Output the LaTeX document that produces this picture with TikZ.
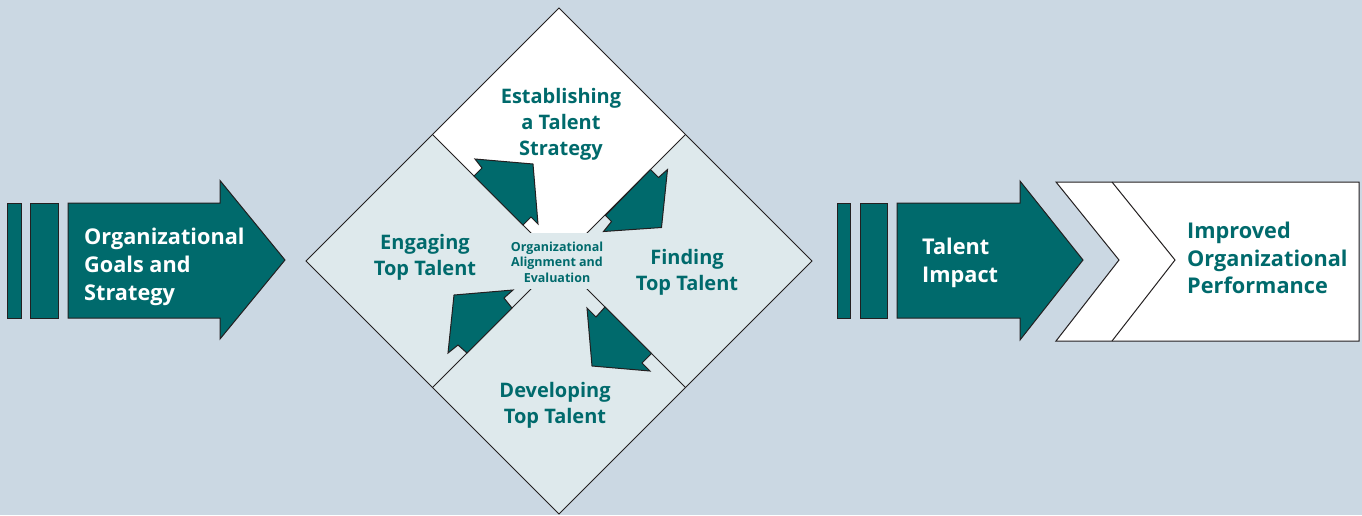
\documentclass[tikz,border=0pt]{standalone}
\usepackage{fontspec}
\setmainfont{Open Sans}
\definecolor{bgc}{RGB}{203,216,227}
\definecolor{tealc}{RGB}{0,106,108}
\definecolor{lightq}{RGB}{222,233,236}
\definecolor{edgec}{RGB}{35,31,32}
\begin{document}
\begin{tikzpicture}[x=1pt,y=-1pt,
  outl/.style={draw=edgec,line width=1pt,line join=miter},
  tealshape/.style={outl,fill=tealc},
  bigw/.style={font=\bfseries\fontsize{21.7}{28}\selectfont,text=white,align=left,anchor=west,inner sep=0pt},
  bigt/.style={font=\bfseries\fontsize{21.7}{27.5}\selectfont,text=tealc,align=left,anchor=west,inner sep=0pt},
  quadt/.style={font=\bfseries\fontsize{20}{26}\selectfont,text=tealc,align=center,inner sep=0pt},
  smallt/.style={font=\bfseries\fontsize{12.5}{15.5}\selectfont,text=tealc,align=center,inner sep=0pt}]
\useasboundingbox (0,0) rectangle (1362,515);
\fill[bgc] (0,0) rectangle (1362,515);
% left arrow
\draw[tealshape] (7,203) rectangle (21,318);
\draw[tealshape] (30.5,203) rectangle (58,318);
\draw[tealshape] (68,203) -- (220,203) -- (220,180.5) -- (285,260) -- (220,339) -- (220,318) -- (68,318) -- cycle;
\node[bigw] (goals) at (84,267) {Organizational\\Goals and\\Strategy};
% diamond
\fill[lightq] (559,8) -- (812,261) -- (559,514) -- (306,261) -- cycle;
\fill[white] (559,8) -- (685.5,134.5) -- (559,261) -- (432.5,134.5) -- cycle;
\draw[outl] (432.5,134.5) -- (685.5,387.5);
\draw[outl] (685.5,134.5) -- (432.5,387.5);
\fill[lightq] (505,233) rectangle (613,289);
\draw[outl] (559,8) -- (812,261) -- (559,514) -- (306,261) -- cycle;
% cycle arrows
\draw[tealshape] (603.5,231.5) -- (661.5,227.5) -- (667.5,169.5) -- (658.5,177.5) -- (650.5,169.5) -- (605.5,215.5) -- (611.5,221.5) -- cycle;
\draw[tealshape] (475,159) -- (533,164) -- (538,224) -- (531,217) -- (523,225) -- (474,176) -- (482,168) -- cycle;
\draw[tealshape] (454,295) -- (513,290) -- (504,298) -- (512,308) -- (467,353) -- (458,345) -- (448,353) -- cycle;
\draw[tealshape] (587,308) -- (596,317) -- (605,307) -- (651.5,353.5) -- (642,363) -- (650,371) -- (592,366) -- cycle;
\node[quadt] (est) at (561,124) {Establishing\\a Talent\\Strategy};
\node[quadt] (eng) at (425,257) {Engaging\\Top Talent};
\node[quadt] (fin) at (687,272) {Finding\\Top Talent};
\node[quadt] (dev) at (555,405) {Developing\\Top Talent};
\node[smallt] (align) at (557,262) {Organizational\\Alignment and\\Evaluation};
% talent impact arrow
\draw[tealshape] (837,203) rectangle (850,318);
\draw[tealshape] (860,203) rectangle (887,318);
\draw[tealshape] (897,203) -- (1020,203) -- (1020,181) -- (1083,260) -- (1020,340) -- (1020,318) -- (897,318) -- cycle;
\node[bigw] (impact) at (922,263) {Talent\\Impact};
% chevrons
\draw[outl,fill=white] (1056,182) -- (1359,182) -- (1359,341) -- (1056,341) -- (1119,260) -- cycle;
\draw[outl] (1112,182) -- (1175,260) -- (1112,341);
\node[bigt] (perf) at (1187,258) {Improved\\Organizational\\Performance};
\end{tikzpicture}
\end{document}
